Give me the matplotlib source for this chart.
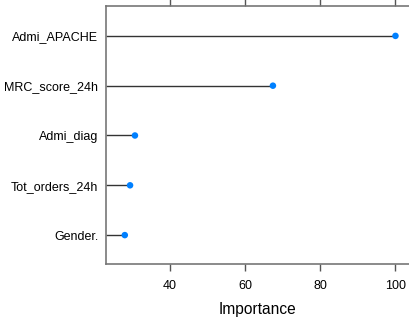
import numpy as np
import matplotlib.pyplot as plt

plt.rcParams['font.family'] = ['Liberation Sans', 'DejaVu Sans']

# variable importance, bottom to top
features = ["Gender.", "Tot_orders_24h", "Admi_diag", "MRC_score_24h", "Admi_APACHE"]
importance = [28.0, 29.4, 30.7, 67.4, 100.0]
xticks = [40, 60, 80, 100]

fig = plt.figure(figsize=(4.09, 3.18), dpi=100)
ax = fig.add_axes([106/409, 54/318, 1 - 106/409, 1 - 54/318 - 6/318])

xmin = 23.0
ypos = np.arange(1, len(features) + 1)
ax.hlines(ypos, xmin, importance, color='#333333', linewidth=1.0)
ax.scatter(importance, ypos, s=22, color='#0080ff', zorder=3, edgecolors='none')

ax.set_xlim(xmin, 103.6)
ax.set_ylim(0.42, 5.6)
ax.set_yticks(ypos)
ax.set_yticklabels(features, fontsize=9)
ax.set_xticks(xticks)
ax.set_xticklabels([str(t) for t in xticks], fontsize=9)
ax.tick_params(axis='x', which='both', top=True, labeltop=False, direction='out',
               length=5, width=1, color='#555555', pad=6.5)
ax.tick_params(axis='y', length=0, pad=5.5)
for s in ['left', 'bottom', 'top']:
    ax.spines[s].set_color('#777777')
    ax.spines[s].set_linewidth(1.2)
ax.spines['right'].set_visible(False)

ax.set_xlabel("Importance", fontsize=11.2, labelpad=7)

plt.savefig("out.png", dpi=100)
